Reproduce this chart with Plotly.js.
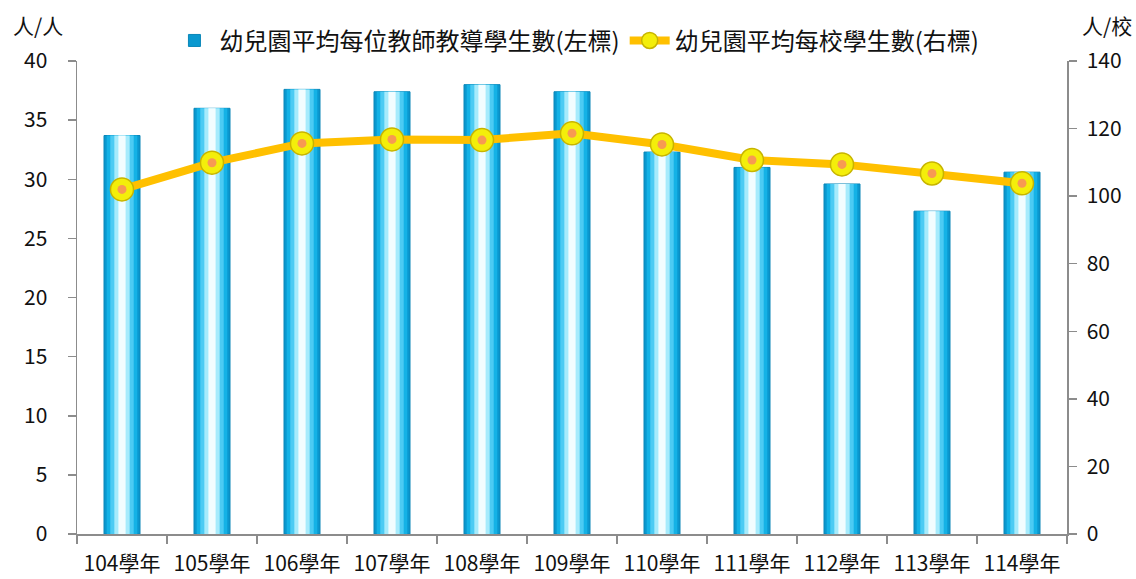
<!DOCTYPE html>
<html>
<head>
<meta charset="utf-8">
<script src="https://cdn.plot.ly/plotly-3.0.1.min.js"></script>
<style>html,body{margin:0;padding:0;background:#fff;}#chart{width:1136px;height:579px;}</style>
</head>
<body>
<div id="chart"></div>
<script>
const categories = ['104學年','105學年','106學年','107學年','108學年','109學年','110學年','111學年','112學年','113學年','114學年'];
const studentsPerTeacher = [33.7, 36.0, 37.6, 37.4, 38.0, 37.4, 32.3, 31.0, 29.6, 27.3, 30.6];
const studentsPerSchool = [102.0, 109.9, 115.6, 116.8, 116.6, 118.6, 115.3, 110.7, 109.4, 106.7, 103.8];
const barName = '幼兒園平均每位教師教導學生數(左標)';
const lineName = '幼兒園平均每校學生數(右標)';
const leftUnit = '人/人';
const rightUnit = '人/校';

const FONT = '"Noto Sans CJK TC", "Noto Sans", sans-serif';

// cylinder-like layering of bars (outer -> inner highlight)
const layers = [
  {w: 0.40, c: '#0a98cf'},
  {w: 0.34, c: '#14b2e6'},
  {w: 0.26, c: '#4ccbf3'},
  {w: 0.17, c: '#a6ebfc'},
  {w: 0.08, c: '#f2fdff'}
];
const traces = layers.map((l, i) => ({
  type: 'bar', x: categories, y: studentsPerTeacher, width: l.w,
  name: barName, showlegend: i === 0, legendrank: 1,
  marker: {color: l.c, line: {width: i === 0 ? 1 : 0, color: '#0a86b8'}},
  hoverinfo: i === 0 ? 'x+y' : 'skip', yaxis: 'y'
}));
traces.push({
  type: 'scatter', mode: 'lines+markers', x: categories, y: studentsPerSchool,
  name: lineName, yaxis: 'y2', legendrank: 2,
  line: {color: '#ffc000', width: 8},
  marker: {size: 23, color: '#f4ee0a', line: {color: '#c7b400', width: 1.5}}
});
traces.push({
  type: 'scatter', mode: 'markers', x: categories, y: studentsPerSchool,
  yaxis: 'y2', showlegend: false, hoverinfo: 'skip',
  marker: {size: 9, color: '#f79a52'}
});

const axisCommon = {
  showgrid: false, zeroline: false, showline: true, linecolor: '#8c8c8c', linewidth: 1.5,
  ticks: 'outside', ticklen: 8, tickcolor: '#8c8c8c', tickwidth: 1.5,
  tickfont: {family: FONT, size: 21, color: '#111'}
};

const layout = {
  width: 1136, height: 579,
  margin: {l: 77, r: 69, t: 61, b: 45},
  paper_bgcolor: '#fff', plot_bgcolor: '#fff',
  barmode: 'overlay', bargap: 0.6,
  font: {family: FONT, size: 21, color: '#111'},
  showlegend: true,
  legend: {orientation: 'h', x: 0.505, xanchor: 'center', y: 0.995, yanchor: 'bottom',
    font: {family: FONT, size: 24, color: '#111'}, traceorder: 'normal', itemwidth: 40},
  xaxis: Object.assign({}, axisCommon, {type: 'category', tickson: 'boundaries', range: [-0.5, 10.5], ticklabelstandoff: 10}),
  yaxis: Object.assign({}, axisCommon, {range: [0, 40], dtick: 5, tick0: 0, ticklabelstandoff: 16}),
  yaxis2: Object.assign({}, axisCommon, {range: [0, 140], dtick: 20, tick0: 0, overlaying: 'y', side: 'right', ticklabelstandoff: 6}),
  annotations: [
    {text: leftUnit, xref: 'paper', yref: 'paper', x: -0.039, y: 1.076, xanchor: 'center', yanchor: 'middle', showarrow: false, font: {family: FONT, size: 21, color: '#111'}},
    {text: rightUnit, xref: 'paper', yref: 'paper', x: 1.040, y: 1.076, xanchor: 'center', yanchor: 'middle', showarrow: false, font: {family: FONT, size: 21, color: '#111'}}
  ]
};

Plotly.newPlot('chart', traces, layout, {displayModeBar: false, staticPlot: true});
</script>
</body>
</html>
